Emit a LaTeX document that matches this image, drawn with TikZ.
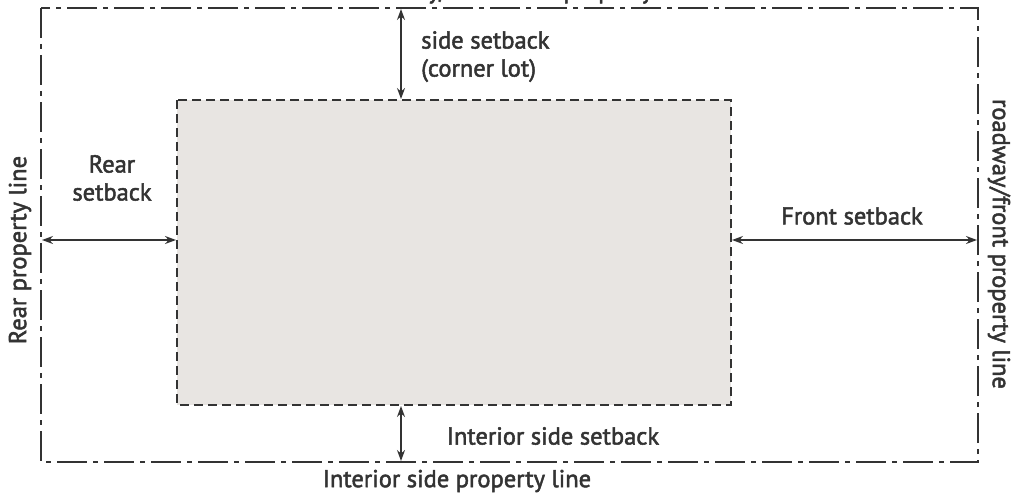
\documentclass[tikz,border=0pt]{standalone}
\usepackage{fontspec}
\setmainfont{PT Sans}[FakeBold=2]
\usetikzlibrary{arrows.meta}
\definecolor{ink}{HTML}{333333}
\definecolor{lotfill}{HTML}{E8E5E2}
\tikzset{
  propline/.style={draw=ink, line width=1.9pt, dash pattern=on 30pt off 6pt on 5pt off 6pt},
  building/.style={draw=ink, fill=lotfill, line width=2.3pt, dash pattern=on 9pt off 5pt},
  dim/.style={draw=ink, line width=1.3pt, {Stealth[length=11pt,width=8pt]}-{Stealth[length=11pt,width=8pt]}, shorten <=1pt, shorten >=1pt},
  lbl/.style={text=ink, font=\fontsize{24.5}{28}\selectfont, inner sep=0pt},
}
\begin{document}
\begin{tikzpicture}[x=1pt,y=-1pt]
\useasboundingbox (0,0) rectangle (1011,495);
\begin{scope}
\clip (0,0) rectangle (1011,495);
\node[lbl, anchor=base] (toplbl) at (525,-1.5) {roadway/side street property line};
\end{scope}
% property line
\draw[propline] (41,8) rectangle (978,462);
\coordinate (pl-top) at (401,8);
\coordinate (pl-bot) at (401,462);
\coordinate (pl-left) at (41,240);
\coordinate (pl-right) at (978,240);
% building envelope
\draw[building] (177,100) rectangle (731,405);
\coordinate (b-top) at (401,100);
\coordinate (b-bot) at (401,405);
\coordinate (b-left) at (177,240);
\coordinate (b-right) at (731,240);
% dimensions
\draw[dim] (pl-top) -- (b-top);
\draw[dim] (b-bot) -- (pl-bot);
\draw[dim] (pl-left) -- (b-left);
\draw[dim] (b-right) -- (pl-right);
% labels
\node[lbl, anchor=north west, align=left] (sideset) at (421,31) {side setback\\(corner lot)};
\node[lbl, align=center] (rearset) at (112,178) {Rear\\setback};
\node[lbl] (frontset) at (852,216) {Front setback};
\node[lbl] (intset) at (553,436) {Interior side setback};
\node[lbl] (intline) at (457,481) {Interior side property line};
\node[lbl, rotate=90] (rearline) at (20,250) {Rear property line};
\node[lbl, rotate=-90] (frontline) at (999,244) {roadway/front property line};
\end{tikzpicture}
\end{document}
